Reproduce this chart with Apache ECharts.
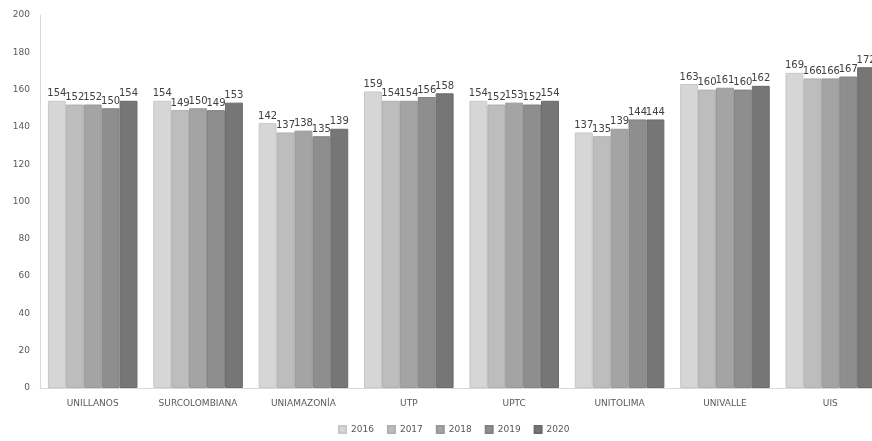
<!DOCTYPE html>
<html>
<head>
<meta charset="utf-8">
<script src="https://cdn.jsdelivr.net/npm/echarts@6/dist/echarts.min.js"></script>
<style>html,body{margin:0;padding:0;background:#fff;overflow:hidden;}#c{width:883px;height:441px;}</style>
</head>
<body>
<div id="c"></div>
<script>
const categories = ['UNILLANOS','SURCOLOMBIANA','UNIAMAZONÍA','UTP','UPTC','UNITOLIMA','UNIVALLE','UIS'];
const years = ['2016','2017','2018','2019','2020'];
const s2016 = [154,154,142,159,154,137,163,169];
const s2017 = [152,149,137,154,152,135,160,166];
const s2018 = [152,150,138,154,153,139,161,166];
const s2019 = [150,149,135,156,152,144,160,167];
const s2020 = [154,153,139,158,154,144,162,172];
const yTicks = [0,20,40,60,80,100,120,140,160,180,200];

const values = [s2016,s2017,s2018,s2019,s2020];
const colors = ['#d6d6d6','#bdbdbd','#a4a4a4','#8e8e8e','#767676'];
const borders = ['#c8c8c8','#b0b0b0','#989898','#828282','#6a6a6a'];

const chart = echarts.init(document.getElementById('c'));
chart.setOption({
  animation:false,
  grid:{left:40, top:15, bottom:53, right:0},
  legend:{
    bottom:2, left:333, itemWidth:7, itemHeight:7, itemGap:13,
    icon:'rect',
    textStyle:{fontFamily:'DejaVu Sans', fontSize:9, color:'#595959'},
    data:years
  },
  xAxis:{
    type:'category', data:categories,
    axisLine:{lineStyle:{color:'#d9d9d9'}},
    axisTick:{show:false},
    axisLabel:{fontFamily:'DejaVu Sans', fontSize:9, color:'#595959', margin:11}
  },
  yAxis:{
    type:'value', min:0, max:200, interval:20,
    axisLine:{show:true, lineStyle:{color:'#d9d9d9'}},
    axisTick:{show:false},
    splitLine:{show:false},
    axisLabel:{fontFamily:'DejaVu Sans', fontSize:9, color:'#595959', margin:10,
      formatter:v => yTicks.includes(v) ? String(v) : ''}
  },
  series: years.map((y,i)=>({
    name:y, type:'bar', data:values[i],
    barGap:'0%', barCategoryGap:'15%',
    itemStyle:{color:colors[i], borderColor:borders[i], borderWidth:1},
    label:{show:true, position:'top', distance:2, fontFamily:'DejaVu Sans', fontSize:10, color:'#404040'}
  }))
});
</script>
</body>
</html>
